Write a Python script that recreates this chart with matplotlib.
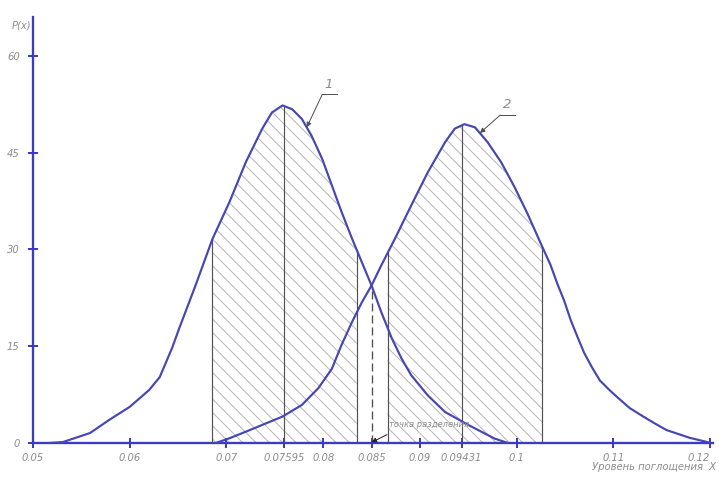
import matplotlib.pyplot as plt
import numpy as np

# --- data ---
x1 = [0.0517, 0.0531, 0.0559, 0.0579, 0.0600, 0.0620, 0.0631, 0.0644, 0.0651, 0.0668,
      0.06855, 0.0703, 0.0720, 0.0737, 0.0747, 0.0758, 0.0768, 0.0778, 0.0788, 0.0799,
      0.0809, 0.0819, 0.0830, 0.0840, 0.0850, 0.0860, 0.0871, 0.0881, 0.0891, 0.0908,
      0.0926, 0.0950, 0.0977, 0.0991]
y1 = [0.0, 0.15, 1.55, 3.6, 5.6, 8.2, 10.2, 14.8, 17.7, 24.4,
      31.6, 37.3, 43.5, 48.7, 51.2, 52.3, 51.7, 50.2, 47.6, 44.0,
      39.9, 35.8, 31.6, 28.0, 24.4, 20.3, 16.2, 13.1, 10.5, 7.4,
      4.8, 2.8, 0.7, 0.0]

x2 = [0.0689, 0.0703, 0.0720, 0.0737, 0.0758, 0.0778, 0.0795, 0.0809, 0.0819, 0.0830,
      0.0840, 0.0850, 0.0860, 0.0874, 0.0891, 0.0908, 0.0926, 0.0936, 0.0946, 0.0957,
      0.0970, 0.0984, 0.0998, 0.1011, 0.1025, 0.1035, 0.1042, 0.1049, 0.1056, 0.1063,
      0.1070, 0.1078, 0.1086, 0.1096, 0.1104, 0.1117, 0.1132, 0.1142, 0.1155, 0.1179,
      0.1197, 0.1200]
y2 = [0.0, 0.73, 1.75, 2.8, 4.1, 5.9, 8.5, 11.5, 15.2, 18.8,
      21.8, 24.4, 27.5, 31.6, 36.8, 41.9, 46.6, 48.7, 49.4, 48.9,
      46.6, 43.5, 39.6, 35.6, 30.9, 27.6, 24.7, 22.1, 19.0, 16.4,
      13.9, 11.7, 9.7, 8.2, 7.1, 5.4, 4.0, 3.1, 2.0, 0.8,
      0.15, 0.0]

means = [0.07595, 0.09431]
bounds1 = [0.06855, 0.08347]
bounds2 = [0.08666, 0.10267]
split_x = 0.085

xticks = [0.05, 0.06, 0.07, 0.07595, 0.08, 0.085, 0.09, 0.09431, 0.1, 0.11, 0.12]
xtick_labels = ['0.05', '0.06', '0.07', '0.07595', '0.08', '0.085', '0.09', '0.09431',
                '0.1', '0.11', '0.12']
yticks = [0, 15, 30, 45, 60]
ytick_labels = ['0', '15', '30', '45', '60']

CURVE = '#4646b4'
AXIS = '#3c3cbe'
GREY = '#8c8c8c'
DARK = '#505050'
HATCH = '#b2b2b2'
FONT = dict(family=['Liberation Sans Narrow', 'DejaVu Sans'], style='italic', color=GREY)

plt.rcParams['hatch.linewidth'] = 0.55
plt.rcParams['hatch.color'] = HATCH

fig = plt.figure(figsize=(719 / 120, 489 / 120), dpi=120)
ax = fig.add_axes([33 / 719, 46 / 489, 680 / 719, 426 / 489])


def hatch_under(ax, xs, ys, lo, hi):
    xs = np.asarray(xs)
    ys = np.asarray(ys)
    inner = (xs > lo) & (xs < hi)
    fx = np.concatenate([[lo], xs[inner], [hi]])
    fy = np.interp(fx, xs, ys)
    ax.fill_between(fx, 0, fy, facecolor='none', edgecolor=HATCH,
                    hatch='\\\\\\', linewidth=0, zorder=1)
    for b in (lo, hi):
        ax.plot([b, b], [0, np.interp(b, xs, ys)], color=DARK, lw=0.7, zorder=2)


hatch_under(ax, x1, y1, *bounds1)
hatch_under(ax, x2, y2, *bounds2)

# mean lines
ax.plot([means[0]] * 2, [0, np.interp(means[0], x1, y1)], color=DARK, lw=0.7, zorder=2)
ax.plot([means[1]] * 2, [0, np.interp(means[1], x2, y2)], color=DARK, lw=0.7, zorder=2)

# separation point
ax.plot([split_x] * 2, [0, np.interp(split_x, x1, y1)], color=DARK, lw=0.8,
        ls=(0, (6, 3)), zorder=2)

ax.plot(x1, y1, color=CURVE, lw=1.3, zorder=3, solid_joinstyle='round')
ax.plot(x2, y2, color=CURVE, lw=1.3, zorder=3, solid_joinstyle='round')

ax.set_xlim(0.05, 0.1203)
ax.set_ylim(0, 66)

for s in ('top', 'right'):
    ax.spines[s].set_visible(False)
for s in ('left', 'bottom'):
    ax.spines[s].set_color(AXIS)
    ax.spines[s].set_linewidth(1.4)

ax.set_xticks(xticks)
ax.set_xticklabels(xtick_labels, **FONT, fontsize=6)
ax.get_xticklabels()[-1].set_horizontalalignment('right')
ax.set_yticks(yticks)
ax.set_yticklabels(ytick_labels, **FONT, fontsize=6)
ax.tick_params(axis='both', direction='inout', length=6, width=1.2, color=AXIS)
ax.tick_params(axis='x', pad=3)
ax.tick_params(axis='y', pad=5)

# leaders for curves
arrow = dict(arrowstyle='-|>', color=DARK, lw=0.6, mutation_scale=6, shrinkA=0, shrinkB=0)
tip1 = 0.0783
ax.annotate('', xy=(tip1, np.interp(tip1, x1, y1)), xytext=(0.0799, 54.0),
            arrowprops=arrow, zorder=4)
ax.plot([0.0799, 0.0814], [54.0, 54.0], color=DARK, lw=0.6)
ax.text(0.0806, 54.6, '1', fontsize=8, ha='center', va='bottom', **FONT)

tip2 = 0.0962
ax.annotate('', xy=(tip2, np.interp(tip2, x2, y2)), xytext=(0.0983, 50.8),
            arrowprops=arrow, zorder=4)
ax.plot([0.0983, 0.0998], [50.8, 50.8], color=DARK, lw=0.6)
ax.text(0.0990, 51.4, '2', fontsize=8, ha='center', va='bottom', **FONT)

ax.annotate('', xy=(split_x, 0.1), xytext=(0.0866, 1.3),
            arrowprops=dict(arrowstyle='-|>', color='#202020', lw=0.6,
                            mutation_scale=6, shrinkA=0, shrinkB=0), zorder=4)
ax.text(0.0868, 2.2, 'точка разделения', fontsize=5, ha='left', va='bottom', **FONT)

# axis captions
fig.text(22 / 719, 1 - 25 / 489, 'Р(х)', fontsize=6, ha='center', va='center', **FONT)
fig.text(716 / 719, 1 - 467 / 489, 'Уровень поглощения  Х', fontsize=6,
         ha='right', va='center', **FONT)

fig.savefig('out.png', dpi=120)
